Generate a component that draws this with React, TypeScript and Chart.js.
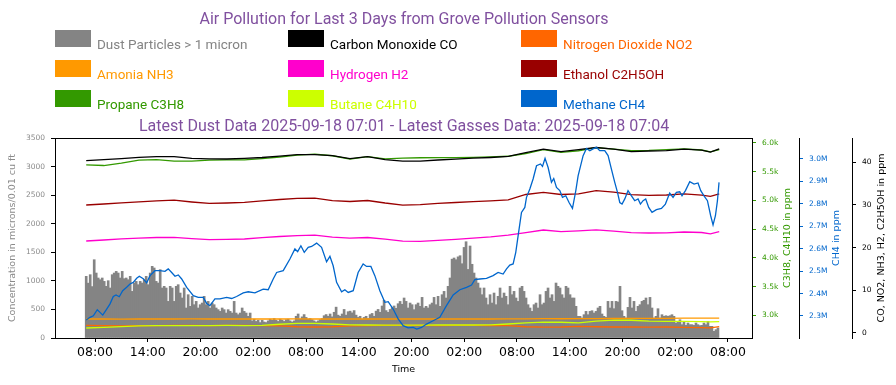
import React, { useEffect, useRef } from "react";
import { Chart, registerables } from "chart.js";

Chart.register(...registerables);

// ---------------- DATA ----------------
// hours counted from 2025-09-15 00:00
const X_TICK_HOURS = [8, 14, 20, 26, 32, 38, 44, 50, 56, 62, 68, 74, 80];
const DUST_TICKS = [0, 500, 1000, 1500, 2000, 2500, 3000, 3500];
const C3H8_TICKS = [3000, 3500, 4000, 4500, 5000, 5500, 6000];
const CH4_TICKS = [2300000, 2400000, 2500000, 2600000, 2700000, 2800000, 2900000, 3000000];
const PPM_TICKS = [0, 10, 20, 30, 40];

const SERIES_NAMES = [
  "Dust Particles > 1 micron",
  "Carbon Monoxide CO",
  "Nitrogen Dioxide NO2",
  "Amonia NH3",
  "Hydrogen H2",
  "Ethanol C2H5OH",
  "Propane C3H8",
  "Butane C4H10",
  "Methane CH4",
];

// dust sensor: one reading every ~13.6 minutes starting 07:00
const DUST_START_HOUR = 7.0;
const DUST_STEP_HOURS = 0.2274;
const DUST = [
  1079, 960, 1108, 900, 1370, 1137, 1050, 1020, 1050, 991,
  904, 1003, 875, 1108, 1137, 1166, 1137, 1050, 1166, 1038,
  1050, 1020, 1079, 816, 962, 991, 933, 991, 962, 1020,
  1079, 933, 1137, 1254, 1225, 991, 962, 1196, 875, 904,
  875, 641, 904, 875, 641, 904, 933, 787, 700, 875,
  525, 758, 554, 729, 583, 641, 525, 583, 612, 729,
  583, 641, 525, 612, 583, 525, 496, 466, 525, 496,
  437, 496, 466, 437, 641, 437, 408, 437, 525,
  466, 437, 379, 437, 300, 330, 290, 310, 270, 310,
  280, 270, 300, 330, 310, 340, 310, 290, 330, 310,
  290, 320, 330, 300, 280, 300, 380, 420, 330, 370,
  410, 360, 330, 340, 320, 300, 280, 300, 320, 340,
  390, 410, 380, 420, 370, 450, 540, 400, 380, 420,
  500, 400, 460, 470, 440, 480, 400, 360, 380, 330,
  360, 380, 340, 410, 430, 380, 470, 500, 450, 560,
  660, 480, 450, 500, 530, 560, 520, 600, 640, 590,
  700, 641, 525, 612, 583, 496, 583, 612, 554, 711,
  525, 554, 525, 583, 612, 711, 583, 729, 554, 758,
  816, 700, 904, 1050, 1380, 1400, 1370, 1420, 1440, 1300,
  1585, 1685, 1200, 1610, 1290, 1137, 1050, 962, 875, 758,
  875, 700, 583, 758, 612, 787, 583, 729, 875, 700,
  787, 729, 583, 904, 758, 816, 700, 641, 875, 904,
  816, 700, 583, 525, 466, 583, 612, 525, 758, 583,
  612, 816, 875, 700, 758, 641, 962, 904, 875, 758,
  700, 904, 875, 758, 700, 700, 554, 379, 379, 350,
  408, 466, 408, 466, 478, 437, 466, 525, 554, 420,
  379, 361, 641, 525, 641, 513, 641, 630, 904, 478,
  379, 350, 536, 711, 525, 641, 466, 554, 583, 641,
  659, 700, 583, 711, 525, 350, 379, 513, 350, 408,
  379, 390, 379, 390, 408, 379, 262, 291, 320, 233,
  291, 221, 262, 233, 233, 221, 262, 233, 216, 221,
  262, 233, 291, 204, 204, 117, 146, 175,
];

// gas sensor samples (hours)
const GAS_TIMES = [
  7, 9, 11, 13, 15, 17, 19, 21, 23, 25, 27, 29, 31, 33, 35, 37, 39, 41, 43,
  45, 47, 49, 51, 53, 55, 57, 59, 61, 63, 65, 67, 69, 71, 73, 75, 77, 78, 79,
];
const CO = [
  40.4, 40.63, 40.87, 41.18, 41.34, 41.34, 40.94, 40.82, 40.8, 40.94,
  41.15, 41.46, 41.81, 41.81, 41.57, 40.87, 41.34, 40.63, 40.28, 40.28,
  40.56, 40.75, 40.99, 41.15, 41.39, 42.28, 43.1, 42.51, 42.98, 43.5,
  43.1, 42.51, 42.68, 42.75, 43.1, 42.87, 42.4, 43.15,
];
const NO2 = [
  1.71, 1.65, 1.62, 1.65, 1.68, 1.71, 1.71, 1.68, 1.71, 1.71,
  1.68, 1.62, 1.4, 1.34, 1.4, 1.62, 1.68, 1.71, 1.71, 1.71,
  1.68, 1.71, 1.71, 1.68, 1.65, 1.4, 1.3, 1.34, 1.48, 1.4,
  1.34, 1.34, 1.3, 1.34, 1.24, 1.2, 1.15, 1.45,
];
const NH3 = [
  3.22, 3.22, 3.2, 3.22, 3.22, 3.22, 3.24, 3.22, 3.22, 3.22,
  3.22, 3.22, 3.24, 3.22, 3.22, 3.22, 3.22, 3.22, 3.22, 3.22,
  3.22, 3.22, 3.22, 3.22, 3.24, 3.26, 3.3, 3.28, 3.3, 3.32,
  3.34, 3.36, 3.36, 3.38, 3.4, 3.4, 3.4, 3.4,
];
const H2 = [
  21.54, 21.77, 22.03, 22.22, 22.36, 22.41, 22.1, 21.84, 21.94, 22.01,
  22.34, 22.6, 22.81, 22.92, 22.43, 22.22, 22.36, 21.96, 21.49, 21.47,
  21.7, 21.94, 22.22, 22.5, 22.9, 23.53, 24.12, 23.72, 23.91, 24.15,
  23.84, 23.51, 23.42, 23.46, 23.65, 23.53, 23.21, 23.72,
];
const C2H5OH = [
  29.99, 30.23, 30.49, 30.72, 30.96, 31.12, 30.7, 30.37, 30.46, 30.6,
  30.96, 31.29, 31.57, 31.61, 31.0, 30.82, 31.05, 30.46, 29.97, 30.06,
  30.39, 30.58, 30.77, 30.96, 31.19, 32.46, 32.95, 32.46, 32.6, 33.35,
  33.0, 32.41, 32.27, 32.34, 32.6, 32.3, 32.04, 32.58,
];
const C3H8 = [
  5620, 5608, 5651, 5703, 5712, 5686, 5686, 5703, 5707, 5707,
  5729, 5756, 5790, 5808, 5778, 5721, 5764, 5724, 5738, 5743,
  5745, 5747, 5750, 5759, 5769, 5817, 5886, 5837, 5865, 5921,
  5895, 5869, 5872, 5883, 5897, 5878, 5846, 5886,
];
const C4H10 = [
  2780, 2790, 2805, 2818, 2820, 2822, 2822, 2822, 2825, 2822,
  2825, 2845, 2860, 2862, 2850, 2835, 2832, 2830, 2830, 2830,
  2832, 2832, 2832, 2835, 2850, 2870, 2882, 2880, 2868, 2900,
  2918, 2915, 2900, 2895, 2895, 2890, 2888, 2890,
];

const CH4_TIMES = [
  7.0, 7.43, 7.81, 8.26, 8.57, 8.88, 9.33, 9.71, 10.08, 10.39,
  10.76, 11.15, 11.6, 11.98, 12.35, 12.74, 13.04, 13.49, 13.88, 14.26,
  14.82, 15.39, 15.96, 16.33, 16.72, 17.1, 17.47, 17.86, 18.43, 19.18,
  19.74, 20.31, 20.7, 21.07, 21.64, 22.21, 22.97, 23.54, 24.11, 24.86,
  25.43, 26.19, 27.13, 27.7, 28.27, 28.66, 29.41, 30.17, 30.74, 31.05,
  31.42, 31.8, 32.25, 32.64, 33.21, 33.77, 34.34, 34.72, 35.09, 35.48,
  36.05, 36.42, 36.8, 37.37, 37.93, 38.5, 38.89, 39.38, 39.83, 40.4,
  40.97, 41.35, 41.91, 42.48, 43.05, 43.62, 44.19, 44.6, 45.14, 45.71,
  46.46, 47.22, 47.98, 48.74, 49.5, 50.26, 50.83, 51.2, 51.77, 52.53,
  53.28, 53.85, 54.42, 54.81, 55.18, 55.56, 55.86, 56.13, 56.51, 56.89,
  57.08, 57.46, 57.83, 58.22, 58.67, 58.9, 59.19, 59.54, 59.92, 60.18,
  60.49, 60.87, 61.17, 61.55, 61.92, 62.31, 62.69, 62.95, 63.14, 63.52,
  63.9, 64.28, 64.65, 65.04, 65.41, 65.98, 66.36, 66.74, 67.12, 67.43,
  67.69, 67.95, 68.26, 68.63, 69.02, 69.39, 69.77, 70.04, 70.34, 70.64,
  70.98, 71.36, 71.86, 72.43, 72.88, 73.37, 73.75, 74.13, 74.51, 74.77,
  75.16, 75.65, 76.14, 76.59, 76.9, 77.27, 77.66, 78.03, 78.3, 78.57,
  78.8, 78.98,
];
const CH4 = [
  2282000, 2294000, 2301000, 2328000, 2316000, 2304000, 2331000, 2354000, 2387000, 2394000,
  2386000, 2413000, 2428000, 2443000, 2450000, 2468000, 2477000, 2466000, 2448000, 2480000,
  2502000, 2502000, 2499000, 2510000, 2494000, 2477000, 2483000, 2465000, 2428000, 2391000,
  2383000, 2383000, 2356000, 2346000, 2376000, 2376000, 2383000, 2378000, 2387000, 2403000,
  2408000, 2403000, 2420000, 2417000, 2465000, 2494000, 2502000, 2554000, 2599000, 2587000,
  2613000, 2584000, 2606000, 2610000, 2625000, 2606000, 2542000, 2566000, 2524000, 2450000,
  2408000, 2417000, 2405000, 2413000, 2494000, 2532000, 2521000, 2521000, 2480000, 2413000,
  2361000, 2364000, 2331000, 2287000, 2257000, 2247000, 2249000, 2242000, 2249000, 2264000,
  2279000, 2294000, 2346000, 2394000, 2417000, 2428000, 2438000, 2462000, 2465000, 2468000,
  2480000, 2494000, 2487000, 2510000, 2527000, 2532000, 2584000, 2658000, 2762000, 2784000,
  2829000, 2866000, 2911000, 2970000, 2978000, 2967000, 3003000, 2962000, 2896000, 2913000,
  2873000, 2859000, 2829000, 2836000, 2806000, 2780000, 2859000, 2925000, 2955000, 3015000,
  3047000, 3037000, 3045000, 3052000, 3037000, 3037000, 3015000, 2955000, 2896000, 2851000,
  2806000, 2799000, 2822000, 2859000, 2836000, 2814000, 2822000, 2799000, 2814000, 2822000,
  2784000, 2762000, 2774000, 2780000, 2799000, 2848000, 2829000, 2851000, 2854000, 2836000,
  2859000, 2899000, 2888000, 2893000, 2859000, 2836000, 2814000, 2747000, 2706000, 2747000,
  2814000, 2896000,
];

// ---------------- STYLE ----------------
const COLORS = {
  dust: "#848484",
  co: "#000000",
  no2: "#ff6600",
  nh3: "#ff9900",
  h2: "#ff00cc",
  ethanol: "#990000",
  propane: "#339900",
  butane: "#ccff00",
  methane: "#0066cc",
  title: "#80509f",
  gray: "#8a8a8a",
};
const LEGEND_COLORS = [
  COLORS.dust, COLORS.co, COLORS.no2,
  COLORS.nh3, COLORS.h2, COLORS.ethanol,
  COLORS.propane, COLORS.butane, COLORS.methane,
];
const TITLE = "Air Pollution for Last 3 Days from Grove Pollution Sensors";
const SUBTITLE =
  "Latest Dust Data 2025-09-18 07:01 - Latest Gasses Data: 2025-09-18 07:04";

const DEJAVU = "'DejaVu Sans', sans-serif";
const ROBOTO = "Roboto, sans-serif";

function pts(xs: number[], ys: number[]) {
  return xs.map((x, i) => ({ x, y: ys[i] }));
}

const decorPlugin = {
  id: "decor",
  afterDraw(chart: any) {
    const ctx: CanvasRenderingContext2D = chart.ctx;
    const ca = chart.chartArea;
    ctx.save();
    // frame
    ctx.strokeStyle = "#000";
    ctx.lineWidth = 1;
    ctx.strokeRect(
      Math.round(ca.left) + 0.5,
      Math.round(ca.top) + 0.5,
      Math.round(ca.right) - Math.round(ca.left),
      Math.round(ca.bottom) - Math.round(ca.top)
    );
    // titles
    ctx.fillStyle = COLORS.title;
    ctx.textAlign = "center";
    ctx.textBaseline = "alphabetic";
    ctx.font = `16px ${ROBOTO}`;
    ctx.fillText(TITLE, 404, 23.5);
    ctx.font = `16px ${ROBOTO}`;
    ctx.fillText(SUBTITLE, 404, 131);
    // legend
    ctx.font = `13.5px ${ROBOTO}`;
    ctx.textAlign = "left";
    const colX = [55, 288, 521];
    const rowY = [30, 60, 90];
    SERIES_NAMES.forEach((name, i) => {
      const c = i % 3;
      const r = Math.floor(i / 3);
      ctx.fillStyle = LEGEND_COLORS[i];
      ctx.fillRect(colX[c], rowY[r], 36, 17);
      ctx.fillText(name, colX[c] + 42, rowY[r] + 19);
    });
    // axis titles
    const vtitle = (text: string, x: number, y: number, color: string) => {
      ctx.save();
      ctx.translate(x, y);
      ctx.rotate(-Math.PI / 2);
      ctx.fillStyle = color;
      ctx.font = `9.5px ${DEJAVU}`;
      ctx.textAlign = "center";
      ctx.textBaseline = "middle";
      ctx.fillText(text, 0, 0);
      ctx.restore();
    };
    const midY = (ca.top + ca.bottom) / 2;
    vtitle("Concentration in microns/0.01 cu ft", 12.5, midY, COLORS.gray);
    vtitle("C3H8, C4H10 in ppm", 788, midY, COLORS.propane);
    vtitle("CH4 in ppm", 837, midY, COLORS.methane);
    vtitle("CO, NO2, NH3, H2, C2H5OH in ppm", 882, midY, "#000");
    ctx.fillStyle = "#000";
    ctx.font = `9.5px ${DEJAVU}`;
    ctx.textAlign = "center";
    ctx.textBaseline = "middle";
    ctx.fillText("Time", (ca.left + ca.right) / 2, 370);
    ctx.restore();
  },
};

function yAxis(
  position: "left" | "right",
  min: number,
  max: number,
  tickValues: number[],
  width: number,
  color: string,
  tickColor: string,
  fmt: (v: number) => string,
  border: boolean
) {
  return {
    type: "linear",
    position,
    min,
    max,
    afterBuildTicks: (s: any) => {
      s.ticks = tickValues.map((v) => ({ value: v }));
    },
    afterFit: (s: any) => {
      s.width = width;
    },
    grid: {
      display: true,
      offset: false,
      drawOnChartArea: false,
      drawTicks: true,
      tickLength: 4,
      color: tickColor,
      tickColor: tickColor,
      lineWidth: 1,
    },
    border: { display: border, color: "#000", width: 1 },
    ticks: {
      color,
      padding: 6,
      autoSkip: false,
      font: { family: DEJAVU, size: 7.5 },
      callback: (v: any) => fmt(Number(v)),
    },
  };
}

export default function App() {
  const ref = useRef<HTMLCanvasElement | null>(null);

  useEffect(() => {
    document.body.style.margin = "0";
    const canvas = ref.current;
    if (!canvas) return;

    const dustData = DUST.map((v, i) => ({
      x: DUST_START_HOUR + i * DUST_STEP_HOURS,
      y: v,
    }));

    const line = (label: string, data: any[], color: string, axis: string) => ({
      type: "line" as const,
      label,
      data,
      borderColor: color,
      backgroundColor: color,
      borderWidth: 1.3,
      pointRadius: 0,
      fill: false,
      tension: 0,
      yAxisID: axis,
      order: 1,
    });

    const chart = new Chart(canvas, {
      type: "bar",
      data: {
        datasets: [
          line(SERIES_NAMES[8], pts(CH4_TIMES, CH4), COLORS.methane, "y2"),
          line(SERIES_NAMES[1], pts(GAS_TIMES, CO), COLORS.co, "y3"),
          line(SERIES_NAMES[6], pts(GAS_TIMES, C3H8), COLORS.propane, "y1"),
          line(SERIES_NAMES[5], pts(GAS_TIMES, C2H5OH), COLORS.ethanol, "y3"),
          line(SERIES_NAMES[4], pts(GAS_TIMES, H2), COLORS.h2, "y3"),
          line(SERIES_NAMES[3], pts(GAS_TIMES, NH3), COLORS.nh3, "y3"),
          line(SERIES_NAMES[7], pts(GAS_TIMES, C4H10), COLORS.butane, "y1"),
          line(SERIES_NAMES[2], pts(GAS_TIMES, NO2), COLORS.no2, "y3"),
          {
            type: "bar" as const,
            label: SERIES_NAMES[0],
            data: dustData,
            backgroundColor: COLORS.dust,
            borderWidth: 0,
            barPercentage: 1,
            categoryPercentage: 1,
            yAxisID: "y",
            order: 10,
          },
        ] as any,
      },
      options: {
        animation: false,
        responsive: false,
        devicePixelRatio: 1,
        events: [],
        layout: { padding: { top: 138, left: 0, right: 0, bottom: 0 } },
        plugins: {
          legend: { display: false },
          title: { display: false },
          tooltip: { enabled: false },
        },
        scales: {
          x: {
            type: "linear",
            position: "bottom",
            min: 3.45,
            max: 82.73,
            offset: false,
            afterBuildTicks: (s: any) => {
              s.ticks = X_TICK_HOURS.map((v) => ({ value: v }));
            },
            afterFit: (s: any) => {
              s.height = 47;
            },
            grid: {
              display: true,
              offset: false,
              drawOnChartArea: false,
              drawTicks: true,
              tickLength: 4,
              color: "#000",
              tickColor: "#000",
            },
            border: { display: false },
            ticks: {
              autoSkip: false,
              maxRotation: 0,
              color: "#000",
              padding: 3,
              font: { family: DEJAVU, size: 12.5 },
              callback: (v: any) =>
                String(Number(v) % 24).padStart(2, "0") + ":00",
            },
          },
          y: yAxis("left", 0, 3500, DUST_TICKS, 55, COLORS.gray, "#000", (v) => String(v), false),
          y1: yAxis("right", 2606, 6087, C3H8_TICKS, 47, COLORS.propane, COLORS.propane,
            (v) => (v / 1000).toFixed(1) + "k", false),
          y2: yAxis("right", 2201900, 3093600, CH4_TICKS, 53, COLORS.methane, COLORS.methane,
            (v) => (v / 1e6).toFixed(1) + "M", true),
          y3: yAxis("right", -1.245, 45.73, PPM_TICKS, 44, "#000", "#000", (v) => String(v), true),
        } as any,
      },
      plugins: [decorPlugin],
    });

    return () => chart.destroy();
  }, []);

  return (
    <div style={{ width: 896, height: 385, background: "#fff" }}>
      <canvas ref={ref} width={896} height={385} style={{ display: "block" }} />
    </div>
  );
}
